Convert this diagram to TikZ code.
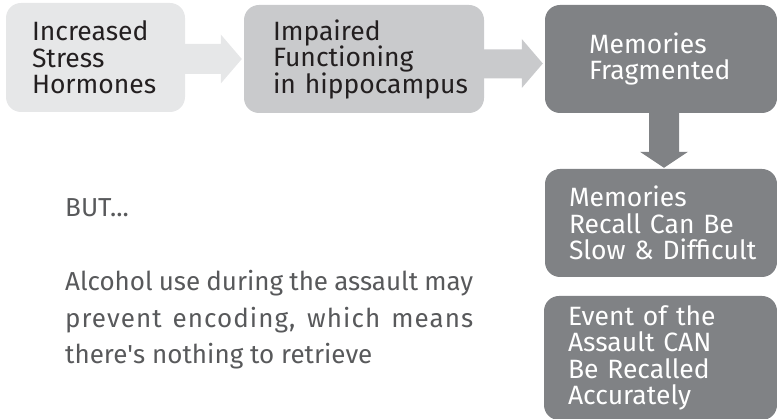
\documentclass[tikz,border=0pt]{standalone}
\usepackage{fontspec}
\setmainfont{Fira Sans}
\usetikzlibrary{calc}
\definecolor{lg}{HTML}{E6E7E8}
\definecolor{mg}{HTML}{C9CACC}
\definecolor{dg}{HTML}{808285}
\definecolor{tx}{HTML}{231F20}
\definecolor{bt}{HTML}{58595B}
\begin{document}
\begin{tikzpicture}[x=1pt,y=1pt,
  box/.style={rounded corners=15pt, inner sep=0pt, minimum height=108pt,
    font=\fontsize{26.5}{26.5}\selectfont, align=left},
  bodytext/.style={anchor=base west, inner sep=0pt, text=bt,
    font=\fontsize{26}{30}\selectfont}]
\useasboundingbox (0,0) rectangle (777,419);
% boxes
\node[box, fill=lg, text=tx, minimum width=179pt, minimum height=109pt, text width=127pt]
  (b1) at (95.5,361.5) {\mbox{Increased}\\Stress\\\mbox{Hormones}};
\node[box, fill=mg, text=tx, minimum width=240pt, text width=182pt]
  (b2) at (364,360) {Impaired\\\mbox{Functioning}\\\mbox{in hippocampus}};
\node[box, fill=dg, text=white, minimum width=232pt, text width=144pt]
  (b3) at (661,360) {Memories\\\mbox{Fragmented}};
\node[box, fill=dg, text=white, minimum width=232pt, text width=184pt]
  (b4) at (661,196) {Memories\\\mbox{Recall Can Be}\\\mbox{Slow \& Difficult}};
\node[box, fill=dg, text=white, minimum width=233pt, minimum height=124pt, text width=185pt]
  (b5) at (660.5,61) {\mbox{Event of the}\\\mbox{Assault CAN}\\\mbox{Be Recalled}\\Accurately};
% block arrows
\fill[lg] let \p1=(b1.east), \p2=(b2.west) in
  (\x1,\y2+15) -- (\x2-23,\y2+15) -- (\x2-23,\y2+24.5) -- (\x2-2,\y2)
  -- (\x2-23,\y2-24.5) -- (\x2-23,\y2-15) -- (\x1,\y2-15) -- cycle;
\fill[mg] let \p1=(b2.east), \p2=(b3.west) in
  (\x1,\y2+9.5) -- (\x2-23,\y2+9.5) -- (\x2-23,\y2+20) -- (\x2-2,\y2-4.5)
  -- (\x2-23,\y2-29) -- (\x2-23,\y2-19.5) -- (\x1,\y2-19.5) -- cycle;
\fill[dg] let \p1=(b3.south), \p2=(b4.north) in
  (\x1-12,\y1) -- (\x1-12,\y2+17) -- (\x1-21,\y2+17) -- (\x1+3,\y2+1)
  -- (\x1+27,\y2+17) -- (\x1+18,\y2+17) -- (\x1+18,\y1) -- cycle;
% free text
\node[bodytext] (but) at (65,202) {BUT...};
\node[bodytext] (l1) at (65,128) {\makebox[408pt][s]{Alcohol use during the assault may}};
\node[bodytext] (l2) at (65,91.5) {\addfontfeature{LetterSpace=4}\makebox[408pt][s]{prevent encoding, which means}};
\node[bodytext] (l3) at (65,55) {there\textquotesingle s nothing to retrieve};
\end{tikzpicture}
\end{document}
